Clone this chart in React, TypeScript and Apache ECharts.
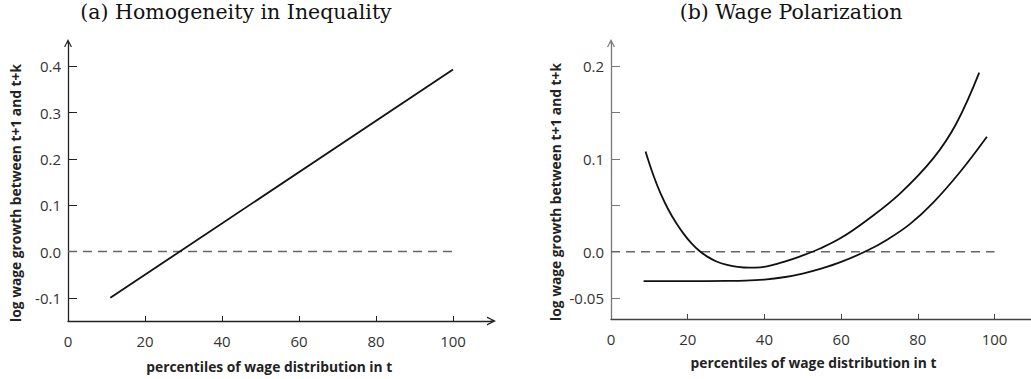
import React, { useEffect, useRef } from "react";
import * as echarts from "echarts";

// ---- data ----
const xTicks = [0, 20, 40, 60, 80, 100];
const leftYTicks = [-0.1, 0, 0.1, 0.2, 0.3, 0.4];
const rightYTicks = [-0.05, 0, 0.05, 0.1, 0.15, 0.2];
const rightYLabels = [-0.05, 0, 0.1, 0.2];

const homogeneityLine: [number, number][] = [
  [11, -0.1],
  [100, 0.393],
];
const zeroLine: [number, number][] = [
  [0, 0],
  [100, 0],
];
const polarUpper: [number, number][] = [
  [9, 0.108], [11, 0.083], [13, 0.062], [15, 0.045], [17, 0.031], [19, 0.019],
  [21, 0.009], [23, 0.001], [25, -0.005], [27.5, -0.0105], [30, -0.014],
  [33, -0.0163], [36, -0.0172], [39, -0.0168], [42, -0.0145], [45, -0.011],
  [49, -0.0055], [54.5, 0.0035], [60, 0.015], [66.7, 0.034], [75.4, 0.063],
  [84, 0.1006], [90, 0.138], [96, 0.193],
];
const polarLower: [number, number][] = [
  [8.5, -0.0316], [20, -0.0316], [30, -0.0315], [35, -0.0312], [40, -0.03],
  [45, -0.0275], [50, -0.0235], [55, -0.018], [60, -0.011], [66.7, 0.001],
  [72, 0.013], [78, 0.03], [84, 0.053], [91, 0.086], [98, 0.124],
];

const titles = ["(a) Homogeneity in Inequality", "(b) Wage Polarization"];
const xName = "percentiles of wage distribution in t";
const yName = "log wage growth between t+1 and t+k";

const chevron =
  "path://M0,10 L5,0 L10,10 L8.4,10 L5,2.8 L1.6,10 Z M4.4,1 L5.6,1 L5.6,6 L4.4,6 Z";

const LABEL_FONT = "Open Sans";

export default function App() {
  const ref = useRef<HTMLDivElement>(null);
  useEffect(() => {
    document.body.style.margin = "0";
    const chart = echarts.init(ref.current!, null, { renderer: "svg" });
    const labelStyle = { color: "#333", fontFamily: LABEL_FONT, fontSize: 15 };
    const nameStyle = {
      color: "#222",
      fontFamily: LABEL_FONT,
      fontSize: 13.8,
      fontWeight: "bold" as const,
    };
    const mkX = (gridIndex: number, max: number, lineColor: string, arrow: boolean, padRight: number, gap: number) => ({
      type: "value",
      gridIndex,
      min: 0,
      max,
      splitLine: { show: false },
      axisLine: {
        show: true,
        onZero: false,
        lineStyle: { color: lineColor, width: 1.3 },
        symbol: arrow ? ["none", chevron] : ["none", "none"],
        symbolSize: [9, 9],
      },
      axisTick: {
        show: true,
        inside: true,
        length: 5,
        customValues: xTicks.filter((v) => v > 0),
        lineStyle: { color: lineColor, width: 1 },
      },
      axisLabel: {
        show: true,
        customValues: xTicks,
        margin: 12,
        ...labelStyle,
        formatter: (v: number) => String(v),
      },
      name: xName,
      nameLocation: "middle",
      nameGap: gap,
      nameTextStyle: { ...nameStyle, padding: [0, padRight, 0, 0] },
    });
    const mkY = (
      gridIndex: number,
      min: number,
      max: number,
      tickVals: number[],
      labelVals: number[],
      fmt: (v: number) => string,
      lineColor: string,
      gap: number
    ) => ({
      type: "value",
      gridIndex,
      min,
      max,
      splitLine: { show: false },
      axisLine: {
        show: true,
        onZero: false,
        lineStyle: { color: lineColor, width: 1.3 },
        symbol: ["none", chevron],
        symbolSize: [8, 10],
      },
      axisTick: {
        show: true,
        inside: true,
        length: 9,
        customValues: tickVals,
        lineStyle: { color: lineColor, width: 1 },
      },
      axisLabel: {
        show: true,
        customValues: labelVals,
        margin: 7,
        ...labelStyle,
        formatter: fmt,
      },
      name: yName,
      nameLocation: "middle",
      nameGap: gap,
      nameRotate: 90,
      nameTextStyle: { ...nameStyle, padding: [0, 22, 0, 0] },
    });

    const lineSeries = (xi: number, data: [number, number][], smooth: boolean) => ({
      type: "line",
      xAxisIndex: xi,
      yAxisIndex: xi,
      data,
      smooth: smooth ? 0.4 : false,
      showSymbol: false,
      symbol: "none",
      lineStyle: { color: "#111", width: 1.8 },
      silent: true,
    });
    const dashSeries = (xi: number) => ({
      type: "line",
      xAxisIndex: xi,
      yAxisIndex: xi,
      data: zeroLine,
      showSymbol: false,
      symbol: "none",
      lineStyle: { color: "#666", width: 1.3, type: [9, 6] },
      silent: true,
    });

    chart.setOption({
      animation: false,
      backgroundColor: "#fff",
      graphic: [
        {
          type: "text",
          x: 236,
          y: 12,
          style: {
            text: titles[0],
            font: '20.5px "DejaVu Serif"',
            fill: "#111",
            textAlign: "center",
            textVerticalAlign: "middle",
          },
        },
        {
          type: "text",
          x: 791,
          y: 12,
          style: {
            text: titles[1],
            font: '20.5px "DejaVu Serif"',
            fill: "#111",
            textAlign: "center",
            textVerticalAlign: "middle",
          },
        },
      ],
      grid: [
        { left: 68, top: 43, width: 423.5, height: 278 },
        { left: 611, top: 43, width: 420, height: 276 },
      ],
      xAxis: [mkX(0, 110, "#222", true, 21, 38), mkX(1, 109.5, "#444", false, 15, 36)],
      yAxis: [
        mkY(0, -0.15, 0.45, leftYTicks, leftYTicks, (v: number) => v.toFixed(1), "#222", 45.5),
        mkY(
          1,
          -0.0725,
          0.225,
          rightYTicks,
          rightYLabels,
          (v: number) => (Math.abs(v + 0.05) < 1e-9 ? "-0.05" : v.toFixed(1)),
          "#777",
          49
        ),
      ],
      series: [
        dashSeries(0),
        lineSeries(0, homogeneityLine, false),
        dashSeries(1),
        lineSeries(1, polarUpper, true),
        lineSeries(1, polarLower, true),
      ],
    });
    return () => chart.dispose();
  }, []);
  return <div ref={ref} style={{ width: 1031, height: 379 }} />;
}
